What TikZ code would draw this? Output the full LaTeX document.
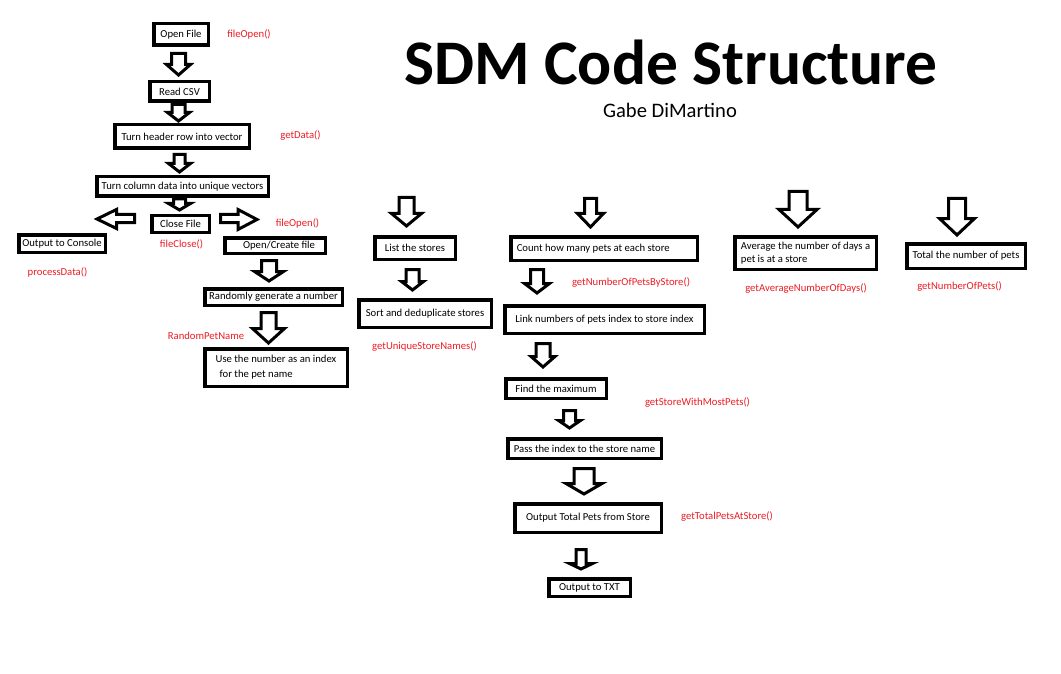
\documentclass[tikz,border=0pt]{standalone}
\usepackage{fontspec}
\setmainfont{Carlito}

\definecolor{fnred}{RGB}{237,28,36}
\newcommand{\boxfont}{\fontsize{10.67}{13}\selectfont}
% hollow arrow pointing down: centre x, top, head line, tip, shaft half width, head half width
\newcommand{\blockdown}[6]{%
  \draw[blockarrow] ({#1-#5},#2) -- ({#1+#5},#2) -- ({#1+#5},#3) -- ({#1+#6},#3)
    -- (#1,#4) -- ({#1-#6},#3) -- ({#1-#5},#3) -- cycle;}

\tikzset{
  stepbox/.style={draw, line width=3.5pt, inner sep=0pt, font=\boxfont},
  blockarrow/.style={draw, line width=3pt, fill=white},
  fnlabel/.style={text=fnred, font=\boxfont, inner sep=0pt}
}

\begin{document}
\begin{tikzpicture}[x=1pt,y=-1pt]
\fill [white] (0,0) rectangle (1061,674);
\useasboundingbox (0,0) rectangle (1061,674);

\node [anchor=base, font=\fontsize{63.5}{70}\selectfont\bfseries] (title) at (671,85) {SDM Code Structure};
\node [anchor=base, font=\fontsize{20.6}{24}\selectfont] (author) at (670,118) {Gabe DiMartino};

% arrows
\blockdown{178.5}{53.5}{64.5}{75}{7}{12}
\blockdown{178.5}{104.5}{112.5}{121}{6.5}{11}
\blockdown{179.5}{154.5}{163.5}{172}{5.5}{11}
\blockdown{179.5}{199}{203.5}{210}{6}{11}
\blockdown{269}{260.5}{271.5}{281}{7.5}{14.5}
\blockdown{268.5}{312.5}{328.5}{343}{7.5}{16}
\blockdown{406.5}{197.5}{213.5}{226}{7.5}{15}
\blockdown{412.5}{269.5}{281.5}{290}{6.5}{11}
\blockdown{590.5}{198.5}{213.5}{227}{6}{13}
\blockdown{537}{269.5}{283.5}{293}{6.5}{12.5}
\blockdown{543}{343.5}{356.5}{367}{7}{12}
\blockdown{569.5}{410.5}{420.5}{428}{6}{11}
\blockdown{584}{468.5}{483.5}{494}{10}{18}
\blockdown{581}{549.5}{563.5}{569}{5}{11.5}
\blockdown{798}{191.5}{209.5}{227}{9}{19}
\blockdown{957}{198.5}{218.5}{235}{8.5}{17.5}
\draw [blockarrow] (134.5,214.5) -- (116.5,214.5) -- (116.5,209.5) -- (97,219) -- (116.5,228.5)
  -- (116.5,222.5) -- (134.5,222.5) -- cycle;
\draw [blockarrow] (220.5,214.5) -- (238,214.5) -- (238,209.5) -- (257,219.5) -- (238,229.5)
  -- (238,222.5) -- (220.5,222.5) -- cycle;

% boxes
\node [stepbox, minimum width=54.5pt, minimum height=21.5pt] (openfile) at (181,34.5) {Open File};
\node [stepbox, minimum width=59.5pt, minimum height=19.5pt] (readcsv) at (179.5,91.5) {Read CSV};
\node [stepbox, minimum width=134.5pt, minimum height=23.5pt] (header) at (182,136.5) {Turn header row into vector};
\node [stepbox, minimum width=171.5pt, minimum height=19.5pt] (columns) at (182.5,186.5) {Turn column data into unique vectors};
\node [stepbox, minimum width=57.5pt, minimum height=16.5pt] (closefile) at (180.5,224) {Close File};
\node [stepbox, minimum width=86.5pt, minimum height=17.5pt] (console) at (62,243.5) {Output to Console};
\node [stepbox, minimum width=100.5pt, minimum height=15.5pt] (opencreate) at (275,245.5) {\hspace*{8pt}Open/Create file};
\node [stepbox, minimum width=137.5pt, minimum height=16.5pt] (randnum) at (273.5,297) {Randomly generate a number};
\node [stepbox, minimum width=142.5pt, minimum height=37.5pt, align=left] (petindex) at (276,367.5)
  {Use the number as an index\\[2pt]\hspace*{4pt}for the pet name};
\node [stepbox, minimum width=80.5pt, minimum height=22.5pt] (liststores) at (415,248) {List the stores};
\node [stepbox, minimum width=132.5pt, minimum height=27.5pt] (sortstores) at (425,313.5) {Sort and deduplicate stores};
\node [stepbox, minimum width=186.5pt, minimum height=23.5pt] (countpets) at (604,248.5)
  {\makebox[174.5pt][l]{Count how many pets at each store}};
\node [stepbox, minimum width=199.5pt, minimum height=27.5pt] (linkindex) at (604.5,319.5) {Link numbers of pets index to store index};
\node [stepbox, minimum width=100.5pt, minimum height=19.5pt] (findmax) at (556,388.5) {Find the maximum};
\node [stepbox, minimum width=153.5pt, minimum height=19.5pt] (passindex) at (584.5,448.5) {Pass the index to the store name};
\node [stepbox, minimum width=146.5pt, minimum height=28.5pt] (outtotal) at (588,518) {Output Total Pets from Store};
\node [stepbox, minimum width=81.5pt, minimum height=17.5pt] (outtxt) at (589.5,587.5) {Output to TXT};
\node [stepbox, minimum width=141.5pt, minimum height=32.5pt, align=left] (avgdays) at (805.5,253)
  {Average the number of days a\\pet is at a store};
\node [stepbox, minimum width=118.5pt, minimum height=24.5pt] (totalpets) at (966,256) {Total the number of pets};

% function names
\node [fnlabel] (fileopenA) at (249,34) {fileOpen()};
\node [fnlabel] (getdata) at (300.5,136) {getData()};
\node [fnlabel] (fileopenB) at (297.5,223) {fileOpen()};
\node [fnlabel] (fileclose) at (181.5,244) {fileClose()};
\node [fnlabel] (processdata) at (57.5,272) {processData()};
\node [fnlabel] (randpetname) at (206,336) {RandomPetName};
\node [fnlabel] (uniquenames) at (424.5,347) {getUniqueStoreNames()};
\node [fnlabel] (petsbystore) at (631,283) {getNumberOfPetsByStore()};
\node [fnlabel] (mostpets) at (697.5,403) {getStoreWithMostPets()};
\node [fnlabel] (totalatstore) at (727,517) {getTotalPetsAtStore()};
\node [fnlabel] (avgnumdays) at (806,289) {getAverageNumberOfDays()};
\node [fnlabel] (numofpets) at (959.5,287) {getNumberOfPets()};
\end{tikzpicture}
\end{document}
